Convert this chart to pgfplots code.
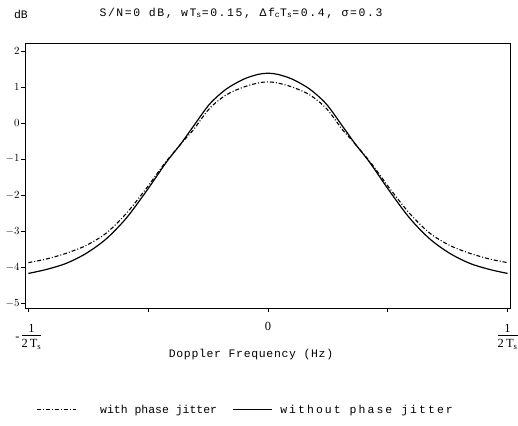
\documentclass[border=0pt]{standalone}
\usepackage{pgfplots}
\pgfplotsset{compat=1.18}
\usepackage{fontspec}
\setmainfont{Liberation Serif}
\setmonofont{Liberation Mono}
\newcommand{\halfTs}{\begin{tabular}[c]{@{}c@{}}1\\[-1pt]\hline\rule{0pt}{12pt}2\,T\textsubscript{s}\end{tabular}}
\begin{document}
\begin{tikzpicture}
\path[use as bounding box] (0,0) rectangle (518bp,426bp);
\begin{axis}[
  at={(25bp,118bp)}, anchor=south west,
  scale only axis, width=485bp, height=265bp,
  xmin=-0.507, xmax=0.505, ymin=-5.14, ymax=2.22,
  axis line style={line width=0.9pt},
  tick align=outside, tick pos=left,
  major tick length=4bp,
  xtick={-0.5,-0.25,0,0.25,0.5},
  xticklabels={{-\,\halfTs}, {}, {0}, {}, {\halfTs}},
  ytick={-5,-4,-3,-2,-1,0,1,2},
  tick style={line width=0.8pt, black},
  yticklabel style={font=\fontsize{11}{12}\selectfont, xshift=2bp},
  xticklabel style={font=\fontsize{12.5}{14}\selectfont, yshift=-7bp},
  legend style={at={(0.4546,-0.384)}, anchor=center, draw=none, fill=none,
     font=\ttfamily\fontsize{11.5}{13}\selectfont,
     /tikz/column 1/.style={column sep=22bp},
     /tikz/column 2/.style={column sep=13bp},
     /tikz/column 3/.style={column sep=6bp}},
  legend columns=2,
  legend image code/.code={\draw[#1] (0bp,0bp) -- (39bp,0bp);},
]
\addplot[black, line width=1.1pt, dash pattern=on 4pt off 2pt on 1pt off 2pt, smooth] coordinates {
(-0.5,-3.88) (-0.4625,-3.78) (-0.421,-3.62) (-0.379,-3.40) (-0.3375,-3.06)
(-0.296,-2.52) (-0.254,-1.82) (-0.2125,-1.07) (-0.171,-0.42) (-0.156,-0.20)
(-0.122,0.40) (-0.087,0.78) (-0.05,1.00) (-0.02,1.11) (0,1.14)
(0.02,1.11) (0.05,1.00) (0.087,0.78) (0.122,0.40) (0.156,-0.20) (0.171,-0.42)
(0.2125,-1.07) (0.254,-1.82) (0.296,-2.52) (0.3375,-3.06) (0.379,-3.40)
(0.421,-3.62) (0.4625,-3.78) (0.5,-3.88)
};
\addlegendentry{with phase jitter}
\addplot[black, line width=1.2pt, smooth] coordinates {
(-0.5,-4.18) (-0.4625,-4.07) (-0.421,-3.90) (-0.379,-3.62) (-0.3375,-3.22)
(-0.296,-2.65) (-0.254,-1.90) (-0.2125,-1.10) (-0.183,-0.60) (-0.156,-0.10)
(-0.122,0.52) (-0.087,0.94) (-0.05,1.22) (-0.02,1.35) (0,1.38)
(0.02,1.35) (0.05,1.22) (0.087,0.94) (0.122,0.52) (0.156,-0.10) (0.183,-0.60)
(0.2125,-1.10) (0.254,-1.90) (0.296,-2.65) (0.3375,-3.22) (0.379,-3.62)
(0.421,-3.90) (0.4625,-4.07) (0.5,-4.18)
};
\addlegendentry{\addfontfeatures{LetterSpace=18}without phase jitter}
\end{axis}
\node[font=\ttfamily\fontsize{11.5}{13}\selectfont] at (21bp,412bp) {dB};
\node[font=\ttfamily\fontsize{11.5}{13}\selectfont\addfontfeatures{LetterSpace=14}] at (241bp,413bp) {S/N=0 dB, wT\textsubscript{s}=0.15, Δf\textsubscript{c}T\textsubscript{s}=0.4, σ=0.3};
\node[font=\ttfamily\fontsize{11.5}{13}\selectfont\addfontfeatures{LetterSpace=6}] at (251bp,71bp) {Doppler Frequency (Hz)};
\end{tikzpicture}
\end{document}
